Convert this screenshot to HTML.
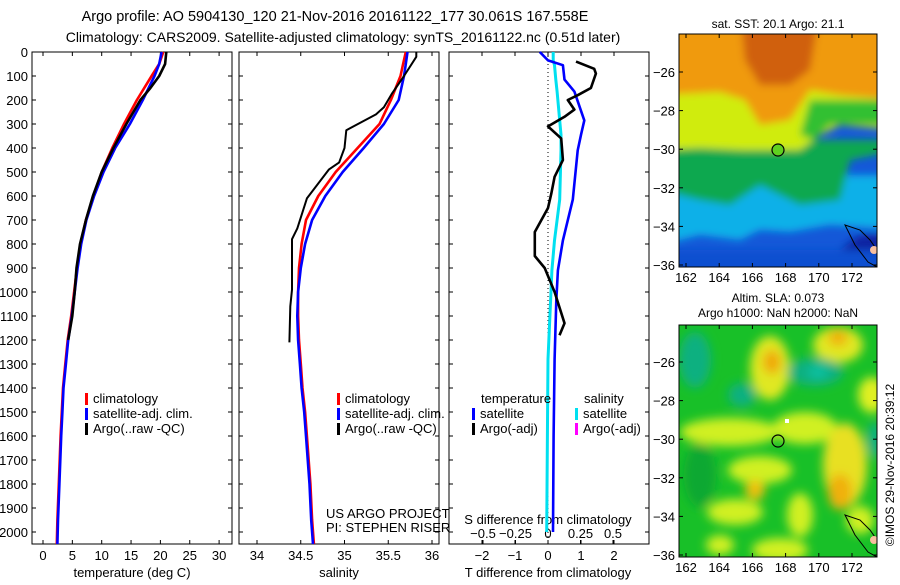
<!DOCTYPE html>
<html><head><meta charset="utf-8"><style>
body{margin:0;background:#fff;}
svg text{font-family:"Liberation Sans",sans-serif;font-size:13px;fill:#000;}
</style></head><body>
<svg id="s" width="900" height="580" xmlns="http://www.w3.org/2000/svg">
<defs>
<filter id="bl" x="-20%" y="-20%" width="140%" height="140%"><feGaussianBlur stdDeviation="4"/></filter>
<filter id="bl2" x="-30%" y="-30%" width="160%" height="160%"><feGaussianBlur stdDeviation="5"/></filter>
<clipPath id="c1"><rect x="679" y="34" width="198" height="233"/></clipPath>
<clipPath id="c2"><rect x="679" y="325" width="198" height="232"/></clipPath>
</defs>
<text x="335" y="21" text-anchor="middle" style="font-size:14.5px">Argo profile: AO 5904130_120 21-Nov-2016 20161122_177 30.061S 167.558E</text>
<text x="343" y="42" text-anchor="middle" style="font-size:14px">Climatology: CARS2009. Satellite-adjusted climatology: synTS_20161122.nc (0.51d later)</text>

<!-- map 1 -->
<g clip-path="url(#c1)">
<rect x="679" y="34" width="198" height="233" fill="#1458d8"/>
<g filter="url(#bl)">
<path d="M660,175 L900,175 L900,230 L830,225 L790,232 L760,230 L740,240 L700,235 L660,245Z" fill="#10b0e8"/>
<path d="M660,140 L900,140 L900,150 L850,160 L840,200 L800,205 L760,185 L730,205 L700,200 L660,190Z" fill="#10a850"/>
<path d="M660,60 L900,60 L900,130 L840,125 L820,135 L800,150 L770,150 L740,150 L700,148 L660,150Z" fill="#d0ec10"/>
<path d="M810,100 L900,100 L900,125 L830,125 L815,140 L800,135Z" fill="#30c030"/>
<path d="M660,10 L900,10 L900,100 L840,95 L810,90 L790,120 L760,125 L745,100 L720,92 L660,95Z" fill="#f09a10"/>
<path d="M740,10 L820,10 L810,70 L790,85 L760,85 L745,60Z" fill="#d06010"/>
<path d="M840,250 L860,235 L900,235 L900,290 L840,290Z" fill="#0820a0"/>
<path d="M660,250 L900,250 L900,290 L660,290Z" fill="#1050d0"/>
</g>
<path d="M845,225 L860,230 L870,240 L877,250 L877,267 L868,262 L855,245Z" fill="none" stroke="#000" stroke-width="1"/>
<circle cx="874" cy="250" r="4" fill="#f8c0a0"/>
<circle cx="778" cy="150" r="6" fill="#60d020" stroke="#000" stroke-width="1.2"/>
</g>
<rect x="679" y="34" width="198" height="233" fill="none" stroke="#000"/>
<text x="778" y="28" text-anchor="middle" style="font-size:12px">sat. SST: 20.1 Argo: 21.1</text>

<!-- map 2 -->
<g clip-path="url(#c2)">
<rect x="679" y="325" width="198" height="232" fill="#18c028"/>
<g filter="url(#bl2)">
<ellipse cx="770" cy="368" rx="20" ry="32" fill="#e0e820"/>
<ellipse cx="772" cy="362" rx="9" ry="12" fill="#f0a810"/>
<ellipse cx="838" cy="345" rx="25" ry="18" fill="#e0e820"/>
<ellipse cx="838" cy="338" rx="10" ry="8" fill="#f0b010"/>
<ellipse cx="815" cy="372" rx="28" ry="14" fill="#10b080"/>
<ellipse cx="818" cy="372" rx="10" ry="7" fill="#10c0a0"/>
<ellipse cx="742" cy="395" rx="14" ry="12" fill="#10b080"/>
<ellipse cx="695" cy="360" rx="16" ry="28" fill="#10b080"/>
<ellipse cx="872" cy="395" rx="14" ry="18" fill="#e0f020"/>
<ellipse cx="875" cy="440" rx="8" ry="18" fill="#10b080"/>
<ellipse cx="730" cy="432" rx="50" ry="14" fill="#d0f020"/>
<ellipse cx="805" cy="428" rx="32" ry="16" fill="#d0f020"/>
<ellipse cx="845" cy="465" rx="22" ry="42" fill="#e8e020"/>
<ellipse cx="840" cy="492" rx="12" ry="18" fill="#f0b010"/>
<ellipse cx="760" cy="470" rx="32" ry="14" fill="#d0f020"/>
<ellipse cx="755" cy="490" rx="10" ry="10" fill="#f0c010"/>
<ellipse cx="700" cy="475" rx="16" ry="32" fill="#10a830"/>
<ellipse cx="735" cy="512" rx="28" ry="13" fill="#d0f020"/>
<ellipse cx="800" cy="515" rx="13" ry="22" fill="#d0f020"/>
<ellipse cx="780" cy="550" rx="28" ry="12" fill="#d0f020"/>
<ellipse cx="860" cy="520" rx="14" ry="14" fill="#d0f020"/>
<ellipse cx="720" cy="545" rx="14" ry="10" fill="#d0f020"/>
</g>
<path d="M845,515 L860,520 L870,530 L877,540 L877,557 L868,552 L855,535Z" fill="none" stroke="#000" stroke-width="1"/>
<circle cx="874" cy="540" r="4" fill="#f8c0a0"/>
<rect x="785" y="419" width="4" height="4" fill="#fff"/>
<circle cx="778" cy="441" r="6" fill="none" stroke="#000" stroke-width="1.2"/>
</g>
<rect x="679" y="325" width="198" height="232" fill="none" stroke="#000"/>
<text x="778" y="302" text-anchor="middle" style="font-size:12px">Altim. SLA: 0.073</text>
<text x="778" y="317" text-anchor="middle" style="font-size:12px">Argo h1000: NaN h2000: NaN</text>
<text transform="translate(894,465) rotate(-90)" text-anchor="middle" style="font-size:12px">©IMOS 29-Nov-2016 20:39:12</text>

<g id="plots"></g>
</svg>
<script>
// temperature profiles (depth m, deg C)
const climDepth=[0,50,100,200,300,400,500,600,700,800,900,1000,1100,1200,1300,1400,1500,1600,1800,1950,2050];
const climTemp=[20.5,19.8,18.5,16,13.8,11.8,10,8.6,7.3,6.4,5.8,5.3,4.8,4.2,3.8,3.4,3.2,3.0,2.7,2.45,2.35];
const satTemp=[20.2,19.8,19.0,17.0,14.8,12.3,10.3,8.7,7.4,6.5,5.9,5.4,4.9,4.3,3.9,3.5,3.3,3.1,2.8,2.55,2.45];
const argoDepth=[0,50,100,150,200,300,400,500,600,700,800,900,1000,1100,1200];
const argoTemp=[21,20.8,19.8,18.3,16.6,14.2,12,10,8.5,7.3,6.3,5.7,5.4,5.0,4.3];
// salinity profiles
const climSal=[35.7,35.67,35.64,35.53,35.4,35.15,34.9,34.7,34.56,34.51,34.48,34.47,34.47,34.48,34.5,34.52,34.55,34.57,34.61,34.63,34.65];
const satSal=[35.72,35.7,35.68,35.62,35.45,35.22,34.98,34.78,34.63,34.55,34.5,34.47,34.46,34.47,34.49,34.51,34.54,34.56,34.6,34.62,34.64];
const argoSalDepth=[0,20,100,175,230,260,326,400,460,490,610,735,780,990,1060,1210];
const argoSal=[35.82,35.82,35.68,35.54,35.45,35.36,35.02,35.0,34.94,34.82,34.57,34.46,34.4,34.4,34.38,34.37];
// differences from climatology
const diffDepth=[0,35,55,115,165,285,345,410,615,785,910,1035,1280,1600,2000];
const satTDiff=[-0.25,0,0.45,0.5,0.8,1.1,1.0,0.9,0.75,0.45,0.3,0.25,0.2,0.17,0.15];
const satSDiff=[0.04,0.04,0.05,0.06,0.07,0.09,0.1,0.1,0.09,0.05,0.03,0.02,0.0,-0.005,-0.01];
const argoDiffDepth=[40,70,90,150,180,200,240,270,310,360,450,520,590,650,750,850,900,1000,1130,1180];
const argoTDiff=[0.85,1.4,1.45,1.3,0.9,0.6,0.8,0.5,0.0,0.4,0.45,0.2,0.1,0.0,-0.4,-0.4,-0.1,0.2,0.5,0.35];
const depthTicks=[0,100,200,300,400,500,600,700,800,900,1000,1100,1200,1300,1400,1500,1600,1700,1800,1900,2000];
const tempTicks=[0,5,10,15,20,25,30];
const salTicks=[34,34.5,35,35.5,36];
const tdTicks=[-2,-1,0,1,2];
const sdTicks=[-0.5,-0.25,0,0.25,0.5];

const NS='http://www.w3.org/2000/svg';
const G=document.getElementById('plots');
function mk(t,a,p){const e=document.createElementNS(NS,t);for(const k in a)e.setAttribute(k,a[k]);(p||G).appendChild(e);return e;}
const TOP=52,BOT=544;
const yD=d=>TOP+d*0.24;
const panels=[{x0:32,x1:232,sx:v=>43+v*5.87},{x0:239,x1:439,sx:v=>257+(v-34)*87.5},{x0:449,x1:649,sx:v=>548+v*33,ss:v=>548+v*130}];
function line(xs,ds,sc,col,name,w){
  const pts=xs.map((v,i)=>sc(v).toFixed(1)+','+yD(ds[i]).toFixed(1)).join(' ');
  const e=mk('polyline',{points:pts,fill:'none',stroke:col,'stroke-width':w||2.6,'stroke-linejoin':'round'});
  
  
}
function frame(p,name){
  const r=mk('rect',{x:p.x0,y:TOP,width:p.x1-p.x0,height:BOT-TOP,fill:'none',stroke:'#000'});
  
  
  depthTicks.forEach(d=>{mk('line',{x1:p.x0,x2:p.x0+4,y1:yD(d),y2:yD(d),stroke:'#000'});mk('line',{x1:p.x1,x2:p.x1-4,y1:yD(d),y2:yD(d),stroke:'#000'});});
}
function xt(p,ticks,sc,y,lab){
  ticks.forEach(v=>{const x=sc(v);mk('line',{x1:x,x2:x,y1:BOT,y2:BOT-4,stroke:'#000'});mk('line',{x1:x,x2:x,y1:TOP,y2:TOP+4,stroke:'#000'});
    const t=mk('text',{x:x,y:y,'text-anchor':'middle'});t.textContent=String(v).replace('-','\u2212');
    
    });
}
function txt(x,y,s,name,anchor){const t=mk('text',{x:x,y:y,'text-anchor':anchor||'start'});t.textContent=s;
  
  return t;}
function leg(x,y,col,s,name){mk('rect',{x:x,y:y-10,width:3,height:12,fill:col});txt(x+8,y,s,name);}

// panel 1
const P1=panels[0];frame(P1,'temperature-panel');
depthTicks.forEach(d=>txt(28,yD(d)+5,String(d),'depth-tick-label','end'));
xt(P1,tempTicks,P1.sx,560,'temperature');
txt(132,577,'temperature (deg C)','temperature-axis-title','middle');
line(climTemp,climDepth,P1.sx,'#f00','clim-temperature-line');
line(satTemp,climDepth,P1.sx,'#00f','sat-temperature-line');
line(argoTemp,argoDepth,P1.sx,'#000','argo-temperature-line');
leg(85,403,'#f00','climatology','legend-climatology');
leg(85,418,'#00f','satellite-adj. clim.','legend-satellite');
leg(85,433,'#000','Argo(..raw -QC)','legend-argo');
// panel 2
const P2=panels[1];frame(P2,'salinity-panel');
xt(P2,salTicks,P2.sx,560,'salinity');
txt(339,577,'salinity','salinity-axis-title','middle');
line(climSal,climDepth,P2.sx,'#f00','clim-salinity-line');
line(satSal,climDepth,P2.sx,'#00f','sat-salinity-line');
line(argoSal,argoSalDepth,P2.sx,'#000','argo-salinity-line',2);
leg(337,403,'#f00','climatology','legend-climatology');
leg(337,418,'#00f','satellite-adj. clim.','legend-satellite');
leg(337,433,'#000','Argo(..raw -QC)','legend-argo');
txt(326,518,'US ARGO PROJECT','project-label');
txt(326,532,'PI: STEPHEN RISER','pi-label');
// panel 3
const P3=panels[2];frame(P3,'difference-panel');
mk('line',{x1:548,x2:548,y1:TOP,y2:BOT,stroke:'#000','stroke-dasharray':'1,3'});
xt(P3,tdTicks,P3.sx,560,'t-diff');
sdTicks.forEach(v=>{const x=P3.ss(v);mk('line',{x1:x,x2:x,y1:BOT,y2:BOT-4,stroke:'#000'});
  const t=mk('text',{x:x,y:538,'text-anchor':'middle'});t.textContent=String(v).replace('-','\u2212');
  
  });
txt(548,524,'S difference from climatology','s-diff-axis-title','middle');
txt(548,577,'T difference from climatology','t-diff-axis-title','middle');
line(satSDiff,diffDepth,P3.ss,'#00e0f0','sat-salinity-diff-line',3);
line(satTDiff,diffDepth,P3.sx,'#00f','sat-temperature-diff-line');
line(argoTDiff,argoDiffDepth,P3.sx,'#000','argo-temperature-diff-line');
txt(481,403,'temperature','legend-temperature-header');
txt(584,403,'salinity','legend-salinity-header');
leg(472,418,'#00f','satellite','legend-t-satellite');
leg(575,418,'#00e0f0','satellite','legend-s-satellite');
leg(472,433,'#000','Argo(-adj)','legend-t-argo');
leg(575,433,'#f0f','Argo(-adj)','legend-s-argo');

// map axes
function mapAx(top,bot,lat0y,name){
  const lats=[-26,-28,-30,-32,-34,-36],lons=[162,164,166,168,170,172];
  const dy=(bot-2-lat0y)/10;
  lats.forEach((l,i)=>{const y=lat0y+i*2*dy;mk('line',{x1:679,x2:683,y1:y,y2:y,stroke:'#000'});mk('line',{x1:877,x2:873,y1:y,y2:y,stroke:'#000'});
    txt(675,y+5,'\u2212'+(-l),name+'-lat-label','end');});
  lons.forEach(l=>{const x=686+(l-162)*16.6;mk('line',{x1:x,x2:x,y1:bot,y2:bot-4,stroke:'#000'});mk('line',{x1:x,x2:x,y1:top,y2:top+4,stroke:'#000'});
    txt(x,bot+15,String(l),name+'-lon-label','middle');});
}
mapAx(34,267,72,'sst-map');
mapAx(325,557,362,'sla-map');
</script>
</body></html>
